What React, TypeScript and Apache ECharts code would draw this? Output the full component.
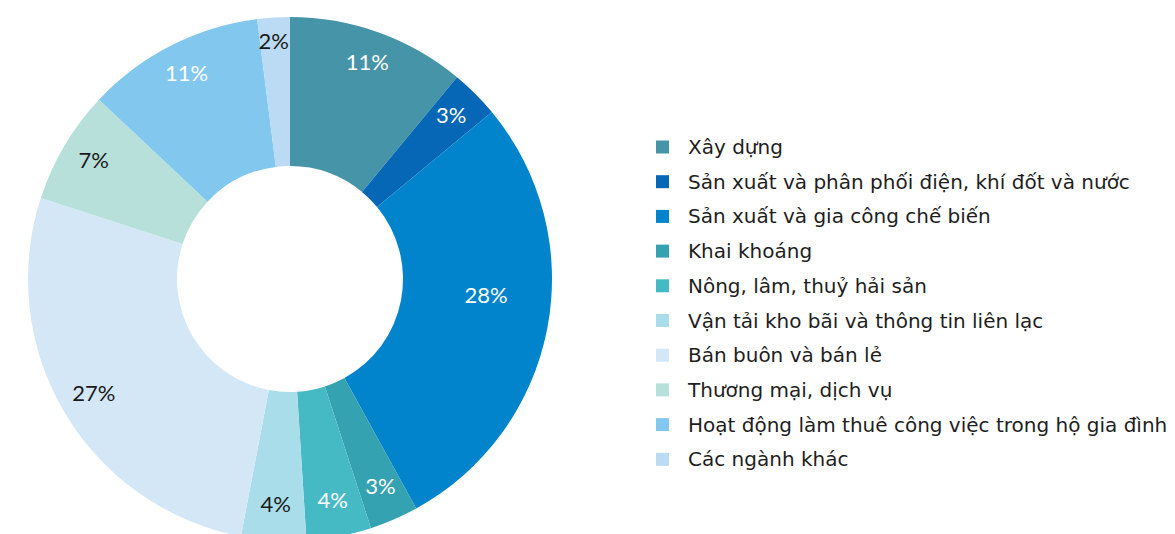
import React, { useEffect, useRef } from "react";
import * as echarts from "echarts";

const categories = [
  "Xây dựng",
  "Sản xuất và phân phối điện, khí đốt và nước",
  "Sản xuất và gia công chế biến",
  "Khai khoáng",
  "Nông, lâm, thuỷ hải sản",
  "Vận tải kho bãi và thông tin liên lạc",
  "Bán buôn và bán lẻ",
  "Thương mại, dịch vụ",
  "Hoạt động làm thuê công việc trong hộ gia đình",
  "Các ngành khác",
];
const values = [11, 3, 28, 3, 4, 4, 27, 7, 11, 2];
const colors = [
  "#4694A7",
  "#0567B5",
  "#0284CC",
  "#34A2B1",
  "#45BAC5",
  "#AADDEA",
  "#D4E7F6",
  "#B8E0DB",
  "#82C8EE",
  "#BBDAF3",
];
const labelColors = [
  "#ffffff",
  "#ffffff",
  "#ffffff",
  "#ffffff",
  "#ffffff",
  "#1a1a1a",
  "#1a1a1a",
  "#1a1a1a",
  "#ffffff",
  "#1a1a1a",
];

const LEGEND_FONT = "'DejaVu Sans', sans-serif";
const LABEL_FONT = "Lato, 'Noto Sans', sans-serif";

export default function App() {
  const ref = useRef<HTMLDivElement>(null);
  useEffect(() => {
    if (!ref.current) return;
    const chart = echarts.init(ref.current, undefined, { renderer: "svg" });
    const data = categories.map((name, i) => ({
      name,
      value: values[i],
      itemStyle: { color: colors[i] },
    }));
    const labelOffsets: Record<number, number[]> = { 2: [-28, -27], 9: [-2, -11] };
    const labelData = categories.map((name, i) => ({
      name,
      value: values[i],
      itemStyle: { color: "rgba(0,0,0,0)" },
      label: { color: labelColors[i], offset: labelOffsets[i] || [0, -3] },
    }));
    chart.setOption({
      animation: false,
      legend: {
        orient: "vertical",
        left: 651,
        top: 131,
        itemWidth: 13,
        itemHeight: 13,
        itemGap: 12.7,
        icon: "rect",
        data: categories,
        textStyle: {
          fontFamily: LEGEND_FONT,
          fontSize: 20,
          lineHeight: 22,
          color: "#1e1e1e",
          padding: [0, 0, 0, 14],
        },
      },
      series: [
        {
          type: "pie",
          center: [290, 279],
          radius: [113, 262],
          startAngle: 90,
          clockwise: true,
          label: { show: false },
          labelLine: { show: false },
          data,
        },
        {
          type: "pie",
          center: [290, 279],
          radius: [188, 262],
          startAngle: 90,
          clockwise: true,
          silent: true,
          legendHoverLink: false,
          label: {
            show: true,
            position: "inside",
            formatter: (p: any) => p.value + "%",
            fontFamily: LABEL_FONT,
            fontSize: 22,
          },
          labelLine: { show: false },
          data: labelData,
        },
      ],
    });
    return () => chart.dispose();
  }, []);
  return (
    <div
      ref={ref}
      style={{ position: "fixed", left: 0, top: 0, width: 1175, height: 534, background: "#fff" }}
    />
  );
}
